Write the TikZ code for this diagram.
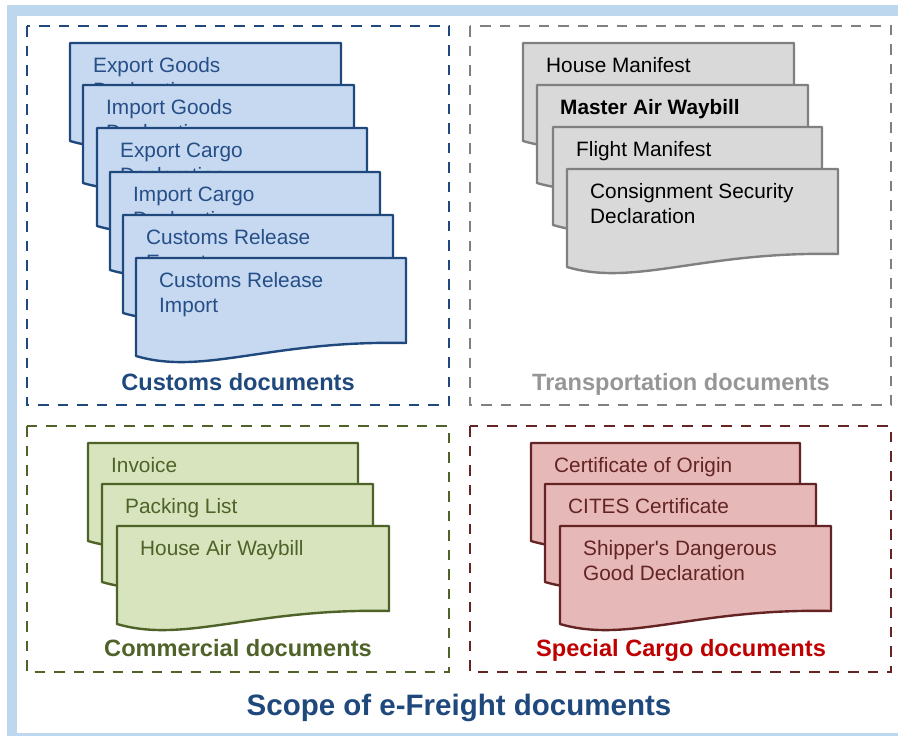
\documentclass[tikz,border=0pt]{standalone}
\usepackage{fontspec}
\setmainfont{Liberation Sans}
\definecolor{framebl}{RGB}{189,215,238}
\definecolor{cusline}{RGB}{31,73,125}
\definecolor{cusfill}{RGB}{198,217,241}
\definecolor{custext}{RGB}{38,78,135}
\definecolor{trline}{RGB}{128,128,128}
\definecolor{trfill}{RGB}{217,217,217}
\definecolor{trlabel}{RGB}{150,150,150}
\definecolor{coline}{RGB}{79,98,40}
\definecolor{cofill}{RGB}{215,228,189}
\definecolor{spline}{RGB}{99,36,35}
\definecolor{spfill}{RGB}{230,185,184}
\definecolor{splabel}{RGB}{192,0,0}
\newcommand{\twolines}[2]{\vtop{\hbox{#1}\hbox{#2}}}
\newcommand{\fdoc}[6]{%
  \begin{scope}[shift={(#2,#3)}]
    \draw[docbase,#5] (0,0) -- (#4,0) -- (#4,85)
      .. controls (0.5*#4,82) and (0.25*#4,118) .. (0,98) -- cycle;
    \node[doctext,#5 text] (#1) at (23,29.5) {#6};
  \end{scope}}
\begin{document}
\begin{tikzpicture}[x=1pt,y=-1pt,
  docbase/.style={line width=2.4pt,line join=round},
  doctext/.style={anchor=base west,inner sep=0pt,
    font=\fontsize{20.8}{25}\selectfont},
  cusdoc/.style={draw=cusline,fill=cusfill},
  cusdoc text/.style={text=custext},
  trdoc/.style={draw=trline,fill=trfill},
  trdoc text/.style={text=black},
  codoc/.style={draw=coline,fill=cofill},
  codoc text/.style={text=coline},
  spdoc/.style={draw=spline,fill=spfill},
  spdoc text/.style={text=spline},
  group/.style={line width=2.8pt,dash pattern=on 10.5pt off 9pt},
  grouplabel/.style={anchor=base,inner sep=0pt,font=\fontsize{23.6}{28}\selectfont\bfseries}]
\useasboundingbox (0,0) rectangle (898,736);
% outer frame
\fill[framebl] (7,5) rectangle (898,736);
\fill[white] (17,16) rectangle (898,733);
% group frames
\draw[group,draw=cusline] (27,26) rectangle (449,405);
\draw[group,draw=trline] (470,26) rectangle (891,405);
\draw[group,draw=coline] (27,426) rectangle (449,672);
\draw[group,draw=spline] (470,426) rectangle (891,672);
% customs documents
\fdoc{c1}{70}{43}{271}{cusdoc}{\twolines{Export Goods}{Declaration}}
\fdoc{c2}{83}{85}{271}{cusdoc}{\twolines{Import Goods}{Declaration}}
\fdoc{c3}{97}{128}{270}{cusdoc}{\twolines{Export Cargo}{Declaration}}
\fdoc{c4}{110}{172}{270}{cusdoc}{\twolines{Import Cargo}{Declaration}}
\fdoc{c5}{123}{215}{270}{cusdoc}{\twolines{Customs Release}{Export}}
\fdoc{c6}{136}{258}{270}{cusdoc}{\twolines{Customs Release}{Import}}
% transportation documents
\fdoc{t1}{523}{43}{271}{trdoc}{House Manifest}
\fdoc{t2}{537}{85}{271}{trdoc}{\bfseries Master Air Waybill}
\fdoc{t3}{553}{127}{269}{trdoc}{Flight Manifest}
\fdoc{t4}{567}{169}{271}{trdoc}{\twolines{Consignment Security}{Declaration}}
% commercial documents
\fdoc{m1}{88}{443}{270}{codoc}{Invoice}
\fdoc{m2}{102}{484}{271}{codoc}{Packing List}
\fdoc{m3}{117}{526}{272}{codoc}{House Air Waybill}
% special cargo documents
\fdoc{s1}{531}{443}{269}{spdoc}{Certificate of Origin}
\fdoc{s2}{545}{484}{271}{spdoc}{CITES Certificate}
\fdoc{s3}{560}{526}{271}{spdoc}{\twolines{Shipper\textquotesingle s Dangerous}{Good Declaration}}
% labels
\node[grouplabel,text=cusline] (lcus) at (238,390) {Customs documents};
\node[grouplabel,text=trlabel] (ltr) at (681,390) {Transportation documents};
\node[grouplabel,text=coline] (lco) at (238,656) {Commercial documents};
\node[grouplabel,text=splabel] (lsp) at (681,656) {Special Cargo documents};
\node[anchor=base,inner sep=0pt,text=cusline,font=\fontsize{29.5}{35}\selectfont\bfseries] (title) at (459,715) {Scope of e-Freight documents};
\end{tikzpicture}
\end{document}
